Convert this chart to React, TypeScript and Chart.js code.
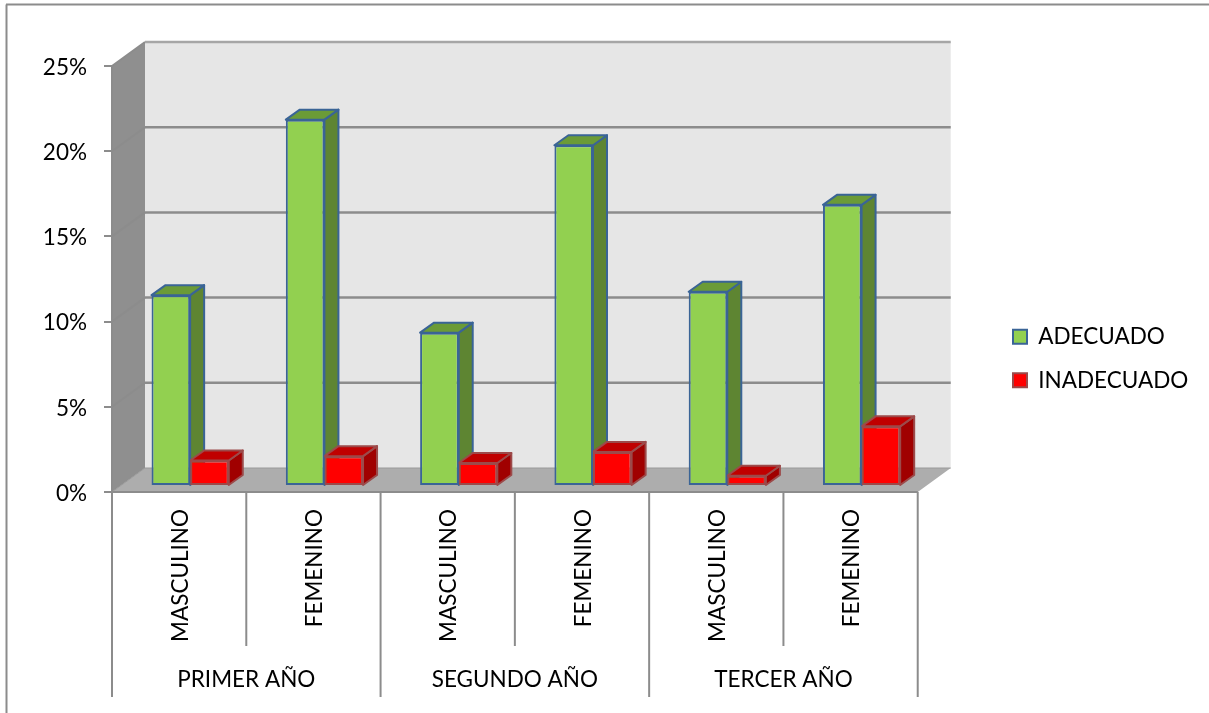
import React, { useEffect, useRef } from "react";
import { Chart, registerables } from "chart.js";

Chart.register(...registerables);

const categories = ["MASCULINO", "FEMENINO", "MASCULINO", "FEMENINO", "MASCULINO", "FEMENINO"];
const groups = ["PRIMER AÑO", "SEGUNDO AÑO", "TERCER AÑO"];
const adecuado = [11.2, 21.5, 9.0, 20.0, 11.4, 16.5];
const inadecuado = [1.5, 1.75, 1.35, 2.0, 0.6, 3.5];

const FONT = "Lato";
const TEXT_SIZE = 22.5;
const GRID = "#8c8c8c";

// Projection of the box: wall depth, bar depth and where the bars stand on the floor.
const WALL_DX = 33;
const WALL_DY = -24;
const BAR_DX = 14;
const BAR_DY = -10;
const FLOOR_DX = 11;
const FLOOR_DY = -6;

const faceColors: Record<string, { top: string; side: string }> = {
  ADECUADO: { top: "#6b9b37", side: "#5e8532" },
  INADECUADO: { top: "#c00000", side: "#a00000" },
};

function poly(ctx: CanvasRenderingContext2D, pts: number[][], fill: string, stroke?: string, lw = 2) {
  ctx.beginPath();
  pts.forEach(([x, y], i) => (i ? ctx.lineTo(x, y) : ctx.moveTo(x, y)));
  ctx.closePath();
  ctx.fillStyle = fill;
  ctx.fill();
  if (stroke) {
    ctx.strokeStyle = stroke;
    ctx.lineWidth = lw;
    ctx.lineJoin = "round";
    ctx.stroke();
  }
}

function line(ctx: CanvasRenderingContext2D, x1: number, y1: number, x2: number, y2: number, color = GRID, lw = 2) {
  ctx.beginPath();
  ctx.moveTo(x1, y1);
  ctx.lineTo(x2, y2);
  ctx.strokeStyle = color;
  ctx.lineWidth = lw;
  ctx.stroke();
}

// Walls, floor and gridlines of the 3D box, bar depth faces and the outer frame.
const boxPlugin = {
  id: "box3d",
  afterLayout(chart: any) {
    const legend = chart.legend;
    const w = legend.width;
    legend.left = 992;
    legend.right = 992 + w;
    legend.top = 304.5;
    legend.bottom = 713;
  },
  beforeDatasetsDraw(chart: any) {
    const { ctx, chartArea: a, scales } = chart;
    const y = scales.y;
    ctx.save();
    line(ctx, 6.5, 713, 6.5, 4.5);
    line(ctx, 6, 4.5, 1209, 4.5);
    poly(ctx, [[a.left + WALL_DX, a.top + WALL_DY], [a.right + WALL_DX, a.top + WALL_DY], [a.right + WALL_DX, a.bottom + WALL_DY], [a.left + WALL_DX, a.bottom + WALL_DY]], "#e6e6e6");
    poly(ctx, [[a.left, a.top], [a.left + WALL_DX, a.top + WALL_DY], [a.left + WALL_DX, a.bottom + WALL_DY], [a.left, a.bottom]], "#8f8f8f");
    poly(ctx, [[a.left, a.bottom], [a.left + WALL_DX, a.bottom + WALL_DY], [a.right + WALL_DX, a.bottom + WALL_DY], [a.right, a.bottom]], "#adadad");
    y.ticks.forEach((t: any) => {
      const py = y.getPixelForValue(t.value);
      if (t.value > 0) {
        line(ctx, a.left, py, a.left + WALL_DX, py + WALL_DY);
        line(ctx, a.left + WALL_DX, py + WALL_DY, a.right + WALL_DX, py + WALL_DY, t.value === y.max ? "#a6a6a6" : GRID, 2.5);
      } else {
        line(ctx, a.left, py, a.left + WALL_DX, py + WALL_DY, "#9a9a9a", 1);
        line(ctx, a.left + WALL_DX, py + WALL_DY, a.right + WALL_DX, py + WALL_DY, "#9a9a9a", 1);
      }
    });
    line(ctx, a.left, a.top, a.left, a.bottom);
    line(ctx, a.left, a.bottom, a.right, a.bottom);

    // Side and top faces go down series by series, so each red box lies over the green side beside it.
    ctx.translate(FLOOR_DX, FLOOR_DY);
    chart.data.datasets.forEach((ds: any, index: number) => {
      const c = faceColors[ds.label];
      chart.getDatasetMeta(index).data.forEach((el: any) => {
        const { x, y: top, base, width } = el.getProps(["x", "y", "base", "width"], true);
        const l = x - width / 2;
        const r = x + width / 2;
        poly(ctx, [[r, top], [r + BAR_DX, top + BAR_DY], [r + BAR_DX, base + BAR_DY], [r, base]], c.side, ds.borderColor);
        poly(ctx, [[l, top], [l + BAR_DX, top + BAR_DY], [r + BAR_DX, top + BAR_DY], [r, top]], c.top, ds.borderColor);
      });
    });
    ctx.restore();
  },
  // Front faces are the library's own bars, shifted onto the floor.
  beforeDatasetDraw(chart: any) {
    chart.ctx.save();
    chart.ctx.translate(FLOOR_DX, FLOOR_DY);
  },
  afterDatasetDraw(chart: any) {
    chart.ctx.restore();
  },
  // Two-level category axis: separators and the year labels.
  afterDraw(chart: any) {
    const { ctx, chartArea: a, scales } = chart;
    const x = scales.x;
    const step = (a.right - a.left) / categories.length;
    ctx.save();
    for (let i = 0; i <= categories.length; i++) {
      const px = x.getPixelForValue(i) - step / 2;
      line(ctx, px, a.bottom, px, i % 2 === 0 ? 697 : 646);
    }
    ctx.fillStyle = "#000";
    ctx.font = `${TEXT_SIZE}px ${FONT}`;
    ctx.textAlign = "center";
    ctx.textBaseline = "middle";
    groups.forEach((g, i) => {
      const cx = (x.getPixelForValue(i * 2) + x.getPixelForValue(i * 2 + 1)) / 2;
      ctx.fillText(g, cx, 680);
    });
    ctx.restore();
  },
};

export default function App() {
  const ref = useRef<HTMLCanvasElement>(null);

  useEffect(() => {
    const chart = new Chart(ref.current as HTMLCanvasElement, {
      type: "bar",
      data: {
        labels: categories,
        datasets: [
          {
            label: "ADECUADO",
            data: adecuado,
            clip: false,
            backgroundColor: "#92d050",
            borderColor: "#3a6496",
            borderWidth: 2,
            borderSkipped: false,
            categoryPercentage: 0.575,
            barPercentage: 1,
          },
          {
            label: "INADECUADO",
            data: inadecuado,
            clip: false,
            backgroundColor: "#ff0000",
            borderColor: "#9c4a4a",
            borderWidth: 2,
            borderSkipped: false,
            categoryPercentage: 0.575,
            barPercentage: 1,
          },
        ],
      } as any,
      options: {
        responsive: false,
        animation: false,
        layout: { padding: { top: 66, right: 85, left: 0, bottom: 0 } },
        plugins: {
          tooltip: { enabled: false },
          legend: {
            position: "right",
            align: "start",
            labels: {
              boxWidth: 14,
              boxHeight: 14,
              padding: 21,
              color: "#000",
              font: { family: FONT, size: TEXT_SIZE },
            },
          },
        },
        scales: {
          x: {
            grid: { display: false },
            border: { display: false },
            afterFit: (s: any) => {
              s.height = 221;
            },
            ticks: {
              minRotation: 90,
              maxRotation: 90,
              autoSkip: false,
              padding: 9,
              labelOffset: 1.5,
              color: "#000",
              font: { family: FONT, size: TEXT_SIZE },
            },
          },
          y: {
            min: 0,
            max: 25,
            afterFit: (s: any) => {
              s.width = 112;
            },
            border: { display: false },
            grid: { drawOnChartArea: false, drawTicks: true, tickLength: 8, color: GRID, lineWidth: 2 },
            ticks: {
              stepSize: 5,
              padding: 17,
              labelOffset: 1.5,
              color: "#000",
              font: { family: FONT, size: TEXT_SIZE },
              callback: (v: any) => `${v}%`,
            },
          },
        },
      },
      plugins: [boxPlugin],
    } as any);
    return () => chart.destroy();
  }, []);

  return (
    <div style={{ position: "absolute", left: 0, top: 0, width: 1209, height: 713, background: "#fff" }}>
      <canvas ref={ref} width={1209} height={713} style={{ display: "block" }} />
    </div>
  );
}
